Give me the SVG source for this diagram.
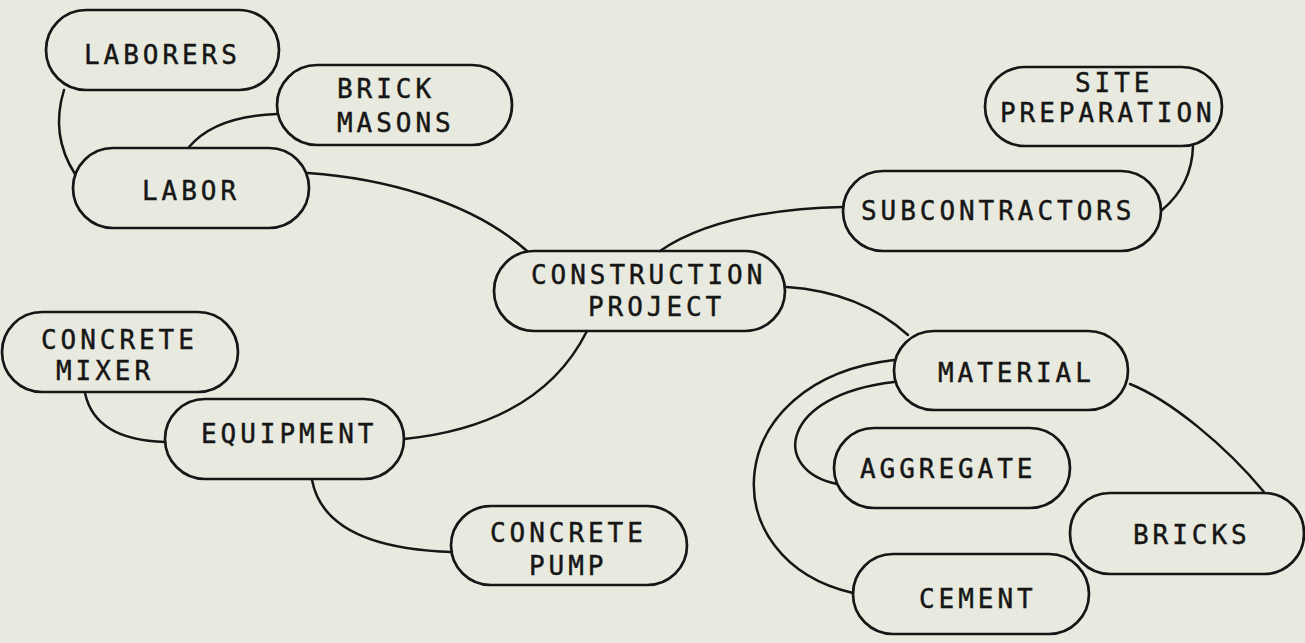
<svg xmlns="http://www.w3.org/2000/svg" width="1305" height="643" viewBox="0 0 1305 643">
<style>
.bg{fill:#e9eadf}
.node rect{fill:none;stroke:#161616;stroke-width:2.7}
.node text{font-family:"DejaVu Sans Mono","Liberation Mono",monospace;font-size:26px;letter-spacing:3.95px;fill:#161616;stroke:#161616;stroke-width:0.45}
.edges path{fill:none;stroke:#161616;stroke-width:2.5;stroke-linecap:round}
</style>
<rect class="bg" x="0" y="0" width="1305" height="643"/>
<g class="edges" id="connectors">
<path d="M64,90 Q50,135 75,174"/>
<path d="M277,114 Q215,116 189,147"/>
<path d="M308,173 C380,178 470,200 527,251"/>
<path d="M660,251 Q720,210 843,207"/>
<path d="M1162,210 Q1192,185 1193,146"/>
<path d="M787,287 Q860,292 908,335"/>
<path d="M587,331 Q540,425 404,439"/>
<path d="M85,393 Q95,440 165,442"/>
<path d="M312,480 Q325,548 452,552"/>
<path d="M894,382 C780,395 770,470 837,484"/>
<path d="M894,360 C720,380 710,560 853,593"/>
<path d="M1130,384 C1170,400 1225,445 1264,492"/>
</g>
<g class="node" id="laborers"><rect x="46" y="10" width="233" height="80" rx="40"/><text x="84" y="64">LABORERS</text></g>
<g class="node" id="brick-masons"><rect x="277" y="65" width="235" height="80" rx="40"/><text x="337" y="98">BRICK</text><text x="337" y="132">MASONS</text></g>
<g class="node" id="labor"><rect x="73" y="148" width="236" height="80" rx="40"/><text x="142" y="200">LABOR</text></g>
<g class="node" id="construction-project"><rect x="494" y="251" width="291" height="80" rx="40"/><text x="531" y="284">CONSTRUCTION</text><text x="588" y="316">PROJECT</text></g>
<g class="node" id="subcontractors"><rect x="843" y="171" width="318" height="80" rx="40"/><text x="861" y="220">SUBCONTRACTORS</text></g>
<g class="node" id="site-preparation"><rect x="985" y="67" width="237" height="79" rx="40"/><text x="1075" y="92">SITE</text><text x="1000" y="122">PREPARATION</text></g>
<g class="node" id="material"><rect x="894" y="331" width="234" height="79" rx="40"/><text x="938" y="382">MATERIAL</text></g>
<g class="node" id="aggregate"><rect x="834" y="428" width="236" height="80" rx="40"/><text x="860" y="478">AGGREGATE</text></g>
<g class="node" id="bricks"><rect x="1070" y="493" width="234" height="81" rx="40"/><text x="1133" y="544">BRICKS</text></g>
<g class="node" id="cement"><rect x="853" y="554" width="236" height="80" rx="40"/><text x="919" y="608">CEMENT</text></g>
<g class="node" id="concrete-mixer"><rect x="2" y="312" width="236" height="80" rx="40"/><text x="41" y="349">CONCRETE</text><text x="56" y="380">MIXER</text></g>
<g class="node" id="equipment"><rect x="165" y="399" width="239" height="80" rx="40"/><text x="201" y="443">EQUIPMENT</text></g>
<g class="node" id="concrete-pump"><rect x="451" y="506" width="236" height="79" rx="40"/><text x="490" y="542">CONCRETE</text><text x="529" y="575">PUMP</text></g>
</svg>
